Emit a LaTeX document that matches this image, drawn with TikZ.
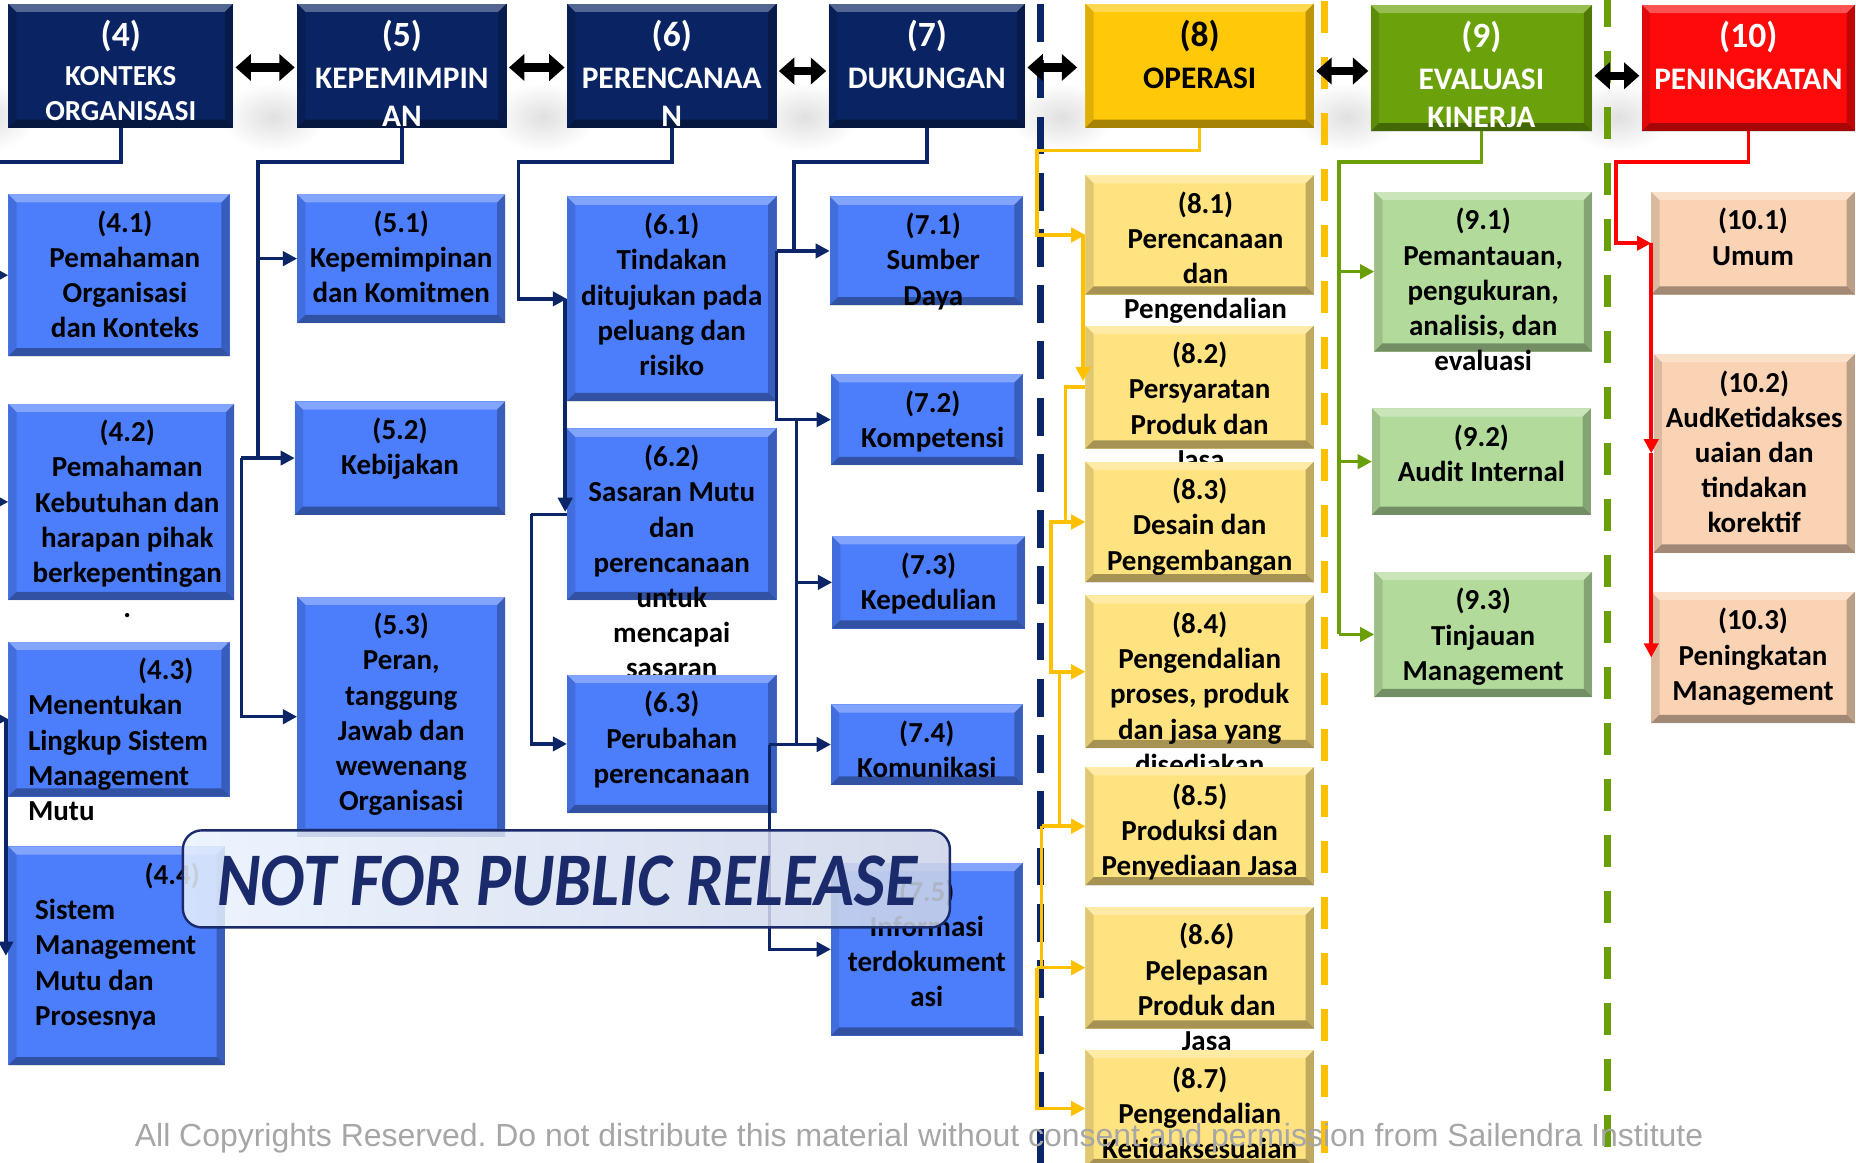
\documentclass[tikz,border=0pt]{standalone}
\usepackage{fontspec}
\usepackage{graphicx}
\newfontfamily\carl{Carlito}
\newfontfamily\lsans{Liberation Sans}
\usetikzlibrary{arrows.meta,fadings,calc}
\frenchspacing

\definecolor{navyh}{HTML}{0A2463}
\definecolor{bluebx}{HTML}{4C7DFB}
\definecolor{navyln}{HTML}{0B2566}
\definecolor{goldh}{HTML}{FFC808}
\definecolor{yelbx}{HTML}{FFE380}
\definecolor{orln}{HTML}{FFC000}
\definecolor{greenh}{HTML}{6BA10A}
\definecolor{grnbx}{HTML}{B2DB9B}
\definecolor{grnln}{HTML}{6A9F0A}
\definecolor{redh}{HTML}{FF0A0A}
\definecolor{peach}{HTML}{FAD3B4}
\definecolor{redln}{HTML}{FF0000}
\definecolor{banln}{HTML}{1B2A6B}
\definecolor{banl}{HTML}{E9F2FE}
\definecolor{banr}{HTML}{CCD4E8}
\definecolor{cpgray}{HTML}{A6A6A6}

\tikzfading[name=blob, inner color=transparent!60, outer color=transparent!100]

\newcommand\hfs{26.5}
\newcommand\hbs{32}

\tikzset{
  bev/.style={path picture={
    \path (path picture bounding box.north west) coordinate (pnw)
          (path picture bounding box.north east) coordinate (pne)
          (path picture bounding box.south west) coordinate (psw)
          (path picture bounding box.south east) coordinate (pse);
    \fill[white,opacity=.30] (pnw) -- (pne) -- ([shift={(-7pt,-7pt)}]pne) -- ([shift={(7pt,-7pt)}]pnw) -- cycle;
    \fill[black,opacity=.35] (psw) -- (pse) -- ([shift={(-7pt,7pt)}]pse) -- ([shift={(7pt,7pt)}]psw) -- cycle;
    \fill[black,opacity=.12] (pnw) -- ([shift={(7pt,-7pt)}]pnw) -- ([shift={(7pt,7pt)}]psw) -- (psw) -- cycle;
    \fill[black,opacity=.25] (pne) -- ([shift={(-7pt,-7pt)}]pne) -- ([shift={(-7pt,7pt)}]pse) -- (pse) -- cycle;
  }},
  panel/.style={rectangle, inner sep=0pt, outer sep=0pt, bev},
  boxtxt/.style={inner sep=0pt, align=center, font=\carl\bfseries\fontsize{24.5}{29.75}\selectfont},
  boxtxtl/.style={inner sep=0pt, align=left, font=\carl\bfseries\fontsize{24.5}{29.75}\selectfont},
  headtxt/.style={inner sep=0pt, align=center, font=\carl\bfseries\fontsize{\hfs}{\hbs}\selectfont},
  tipc/.style={-{Triangle[length=12pt,width=12pt]}},
  nl/.style={draw=navyln, line width=3pt},
  na/.style={nl, tipc},
  ol/.style={draw=orln, line width=3pt},
  oa/.style={ol, tipc},
  gl/.style={draw=grnln, line width=3pt},
  ga/.style={gl, tipc},
  rl/.style={draw=redln, line width=3pt},
  ra/.style={rl, tipc},
  dbl/.style={draw=black, line width=7pt, shorten <=2pt, shorten >=2pt,
    {Triangle[length=13pt,width=22pt]}-{Triangle[length=13pt,width=22pt]}},
}

% sub-topic box: [text xshift]{name}{x1}{y1}{x2}{y2}{fill}{text}
\newcommand\mkbox[8][0]{%
  \node[panel, fill=#7, minimum width={(#5)-(#3)}, minimum height={(#6)-(#4)}] (#2) at ({((#3)+(#5))/2},{((#4)+(#6))/2}) {};
  \node[boxtxt, anchor=north] (#2t) at ({((#3)+(#5))/2+(#1)},{(#4)+12}) {\rule{0pt}{20pt}#8};
}
% clause header: [text colour]{name}{x1}{y1}{x2}{y2}{fill}{number}{title}
\newcommand\mkhead[9][white]{%
  \node[panel, fill=#7, minimum width={(#5)-(#3)}, minimum height={(#6)-(#4)}] (#2) at ({((#3)+(#5))/2},{((#4)+(#6))/2}) {};
  \node[headtxt, text=#1, anchor=north] (#2t) at ({((#3)+(#5))/2},{(#4)+12}) {\rule{0pt}{24pt}{\fontsize{30}{30}\selectfont #8}\\[3.5pt]#9};
}

\begin{document}
\begin{tikzpicture}[x=1pt,y=-1pt]
\useasboundingbox (0,0) rectangle (1568,982);
\begin{scope}
\clip (0,0) rectangle (1568,982);

% soft shadows behind the clause headers
\foreach \xa in {7,251,479,700,917,1158,1387}
  \fill[black!30, path fading=blob] ({\xa-64},70) rectangle ({\xa+24},128);

% dashed separators between the groups
\draw[navyln, line width=6pt, dash pattern=on 32pt off 15.5pt] (879,3.5) -- (879,995);
\draw[orln, line width=6pt, dash pattern=on 27pt off 20.3pt] (1119,1) -- (1119,995);
\draw[grnln, line width=6pt, dash pattern=on 27pt off 20.3pt] (1358,-4) -- (1358,995);

% clause headers
\renewcommand\hfs{24.5}\renewcommand\hbs{29.5}
\mkhead{h4}{7}{3}{197}{108}{navyh}{(4)}{KONTEKS\\ORGANISASI}
\renewcommand\hfs{26.5}\renewcommand\hbs{32}
\mkhead{h5}{251}{3}{428}{108}{navyh}{(5)}{KEPEMIMPIN\\AN}
\mkhead{h6}{479}{3}{656}{108}{navyh}{(6)}{PERENCANAA\\N}
\mkhead{h7}{700}{3}{866}{108}{navyh}{(7)}{DUKUNGAN}
\mkhead[black]{h8}{917}{3}{1110}{108}{goldh}{(8)}{OPERASI}
\mkhead{h9}{1158}{4}{1345}{111}{greenh}{(9)}{EVALUASI\\KINERJA}
\mkhead{h10}{1387}{4}{1567}{111}{redh}{(10)}{PENINGKATAN}

% clause 4
\mkbox[5]{b41}{7}{164}{194}{301}{bluebx}{(4.1)\\Pemahaman\\Organisasi\\dan Konteks}
\mkbox[5]{b42}{7}{341}{198}{507}{bluebx}{(4.2)\\Pemahaman\\Kebutuhan dan\\harapan pihak\\berkepentingan\\.}
\node[panel, fill=bluebx, minimum width=187pt, minimum height=131pt] (b43) at (100.5,607.5) {};
\node[boxtxtl, anchor=north west] (b43t) at (23.5,554) {\rule{0pt}{20pt}\hspace*{93pt}(4.3)\\Menentukan\\Lingkup Sistem\\Management\\Mutu};
\node[panel, fill=bluebx, minimum width=183pt, minimum height=185pt] (b44) at (98.5,807.5) {};
\node[boxtxtl, anchor=north west] (b44t) at (29.5,727) {\rule{0pt}{20pt}\hspace*{92.5pt}(4.4)\\Sistem\\Management\\Mutu dan\\Prosesnya};

% clause 5
\mkbox{b51}{251}{164}{427}{273}{bluebx}{(5.1)\\Kepemimpinan\\dan Komitmen}
\mkbox{b52}{249}{339}{427}{435}{bluebx}{(5.2)\\Kebijakan}
\mkbox{b53}{251}{504}{427}{707}{bluebx}{(5.3)\\Peran,\\tanggung\\Jawab dan\\wewenang\\Organisasi}

% clause 6
\mkbox{b61}{479}{166}{656}{339}{bluebx}{(6.1)\\Tindakan\\ditujukan pada\\peluang dan\\risiko}
\mkbox{b62}{479}{362}{656}{507}{bluebx}{(6.2)\\Sasaran Mutu\\dan\\perencanaan\\untuk\\mencapai\\sasaran}
\mkbox{b63}{479}{570}{656}{687}{bluebx}{(6.3)\\Perubahan\\perencanaan}

% clause 7
\mkbox[6]{b71}{701}{166}{864}{258}{bluebx}{(7.1)\\Sumber\\Daya}
\mkbox[5]{b72}{702}{316}{864}{393}{bluebx}{(7.2)\\Kompetensi}
\mkbox{b73}{703}{453}{866}{531}{bluebx}{(7.3)\\Kepedulian}
\mkbox{b74}{702}{595}{864}{663}{bluebx}{(7.4)\\Komunikasi}
\mkbox{b75}{702}{729}{864}{875}{bluebx}{(7.5)\\Informasi\\terdokument\\asi}

% clause 8
\mkbox[5]{b81}{917}{148}{1110}{249}{yelbx}{(8.1)\\Perencanaan\\dan\\Pengendalian}
\mkbox{b82}{917}{275}{1110}{379}{yelbx}{(8.2)\\Persyaratan\\Produk dan\\Jasa}
\mkbox{b83}{917}{390}{1110}{492}{yelbx}{(8.3)\\Desain dan\\Pengembangan}
\mkbox{b84}{917}{503}{1110}{632}{yelbx}{(8.4)\\Pengendalian\\proses, produk\\dan jasa yang\\disediakan}
\mkbox{b85}{917}{648}{1110}{748}{yelbx}{(8.5)\\Produksi dan\\Penyediaan Jasa}
\mkbox[6]{b86}{917}{766}{1110}{869}{yelbx}{(8.6)\\Pelepasan\\Produk dan\\Jasa}
\mkbox{b87}{917}{887}{1110}{986}{yelbx}{(8.7)\\Pengendalian\\Ketidaksesuaian}

% clause 9
\mkbox{b91}{1161}{162}{1345}{297}{grnbx}{(9.1)\\Pemantauan,\\pengukuran,\\analisis, dan\\evaluasi}
\mkbox{b92}{1159}{345}{1344}{435}{grnbx}{(9.2)\\Audit Internal}
\mkbox{b93}{1161}{483}{1345}{589}{grnbx}{(9.3)\\Tinjauan\\Management}

% clause 10
\mkbox{b101}{1395}{162}{1567}{249}{peach}{(10.1)\\Umum}
\mkbox{b102}{1397}{299}{1567}{467}{peach}{(10.2)\\AudKetidakses\\uaian dan\\tindakan\\korektif}
\mkbox{b103}{1395}{500}{1567}{611}{peach}{(10.3)\\Peningkatan\\Management}

% junction points of the connectors
\coordinate (lx) at (-20,0);
\coordinate (k4) at (-20,137);
\coordinate (k5) at (218,137);
\coordinate (j5) at (204,387);
\coordinate (k6) at (438,137);
\coordinate (j6) at (449,434.5);
\coordinate (k7) at (671,137);
\coordinate (k7b) at (673,354.5);
\coordinate (k7c) at (650,629);
\coordinate (k8) at (876,127);
\coordinate (t82) at (915,322);
\coordinate (j83) at (900,327);
\coordinate (j84) at (888,441);
\coordinate (j85) at (895,567.5);
\coordinate (j86) at (880,698);
\coordinate (j87) at (876,817.5);
\coordinate (k9) at (1131,137);
\coordinate (k10) at (1365,137);

% clause 4 links
\draw[nl] (h4.south) |- (k4);
\draw[na] (b41.west -| lx) -- (b41.west);
\draw[na] (b42.west -| lx) -- (b42.west);
\draw[na] (b43.west -| lx) -- (b43.west);
\draw[na] ([xshift=-2pt]b43.west) -- ([xshift=-2pt]b44.west);

% clause 5 links
\draw[nl] (h5.south) |- (k5) -- (k5 |- j5);
\draw[na] (k5 |- b51.west) -- (b51.west);
\draw[na] (j5) -- (b52.west);
\draw[na] (j5) |- (b53.west);

% clause 6 links
\draw[na] (h6.south) |- (k6) |- (b61.west);
\draw[na, shorten >=2pt] ([xshift=-1.5pt]b61.west) -- ([xshift=-1.5pt]b61.west |- j6);
\draw[nl] (j6) -- (b62.west);
\draw[na] (j6) |- (b63.west);

% clause 7 links
\draw[nl] (h7.south) |- (k7) -- (k7 |- b71.west);
\draw[na] (b61.east |- b71.west) -- (b71.west);
\draw[na] (b61.east |- b71.west) |- (b72.west);
\draw[nl] (k7b) -- (k7b |- k7c);
\draw[na] (k7b |- b73.west) -- (b73.west);
\draw[na] (k7c) -- (b74.west);
\draw[na] (k7c) |- (b75.west);

% clause 8 links
\draw[oa] (h8.south) |- (k8) |- (b81.west);
\draw[oa] ([xshift=-2pt]b81.west) -- (t82);
\draw[oa] (b82.west) -- (j83) |- (b83.west);
\draw[oa] (j83 |- b83.west) -- (j84) |- (b84.west);
\draw[ol] (j85) -- (j85 |- b85.west);
\draw[oa] (j86) -- (b85.west);
\draw[ol] (j86) -- (j86 |- b86.west);
\draw[oa] (j87) -- (b86.west);
\draw[oa] (j87) |- (b87.west);

% clause 9 links
\draw[gl] (h9.south) |- (k9) -- (k9 |- b93.west);
\draw[ga] (k9 |- b91.west) -- (b91.west);
\draw[ga] (k9 |- b92.west) -- (b92.west);
\draw[ga] (k9 |- b93.west) -- (b93.west);

% clause 10 links
\draw[ra] (h10.south) |- (k10) |- (b101.west);
\draw[ra] (b101.west) -- (b101.west |- b102.west);
\draw[ra] (b101.west |- b102.west) -- (b101.west |- b103.west);

% links between the clause headers
\draw[dbl] ([yshift=-1.5pt]h4.east) -- ([yshift=-1.5pt]h5.west);
\draw[dbl] ([yshift=-1.5pt]h5.east) -- ([yshift=-1.5pt]h6.west);
\draw[dbl] ([yshift=-4.5pt]h6.east) -- ([yshift=-4.5pt]h7.west);
\draw[dbl, shorten >=7pt] ([yshift=-1.5pt]h7.east) -- ([yshift=-1.5pt]h8.west);
\draw[dbl] ([yshift=-4.5pt]h8.east) -- ([yshift=-2.5pt]h9.west);
\draw[dbl] ([yshift=-6.5pt]h9.east) -- ([yshift=-6.5pt]h10.west);

% release banner
\node[draw=banln, line width=2pt, rounded corners=16pt, minimum width=648pt, minimum height=82pt,
      left color=banl, right color=banr, fill opacity=0.85, inner sep=0pt] (ban) at (478.5,742.5) {};
\node[anchor=base, inner sep=0pt, text=banln, font=\carl\bfseries\itshape\fontsize{64}{64}\selectfont]
      (bant) at (479.5,765) {\scalebox{0.87}[1]{NOT FOR PUBLIC RELEASE}};

% copyright line
\node[anchor=base, inner sep=0pt, text=cpgray, font=\lsans\fontsize{27}{27}\selectfont] (cpy) at (776.5,969)
      {All Copyrights Reserved. Do not distribute this material without consent and permission from Sailendra Institute};
\end{scope}
\end{tikzpicture}
\end{document}
